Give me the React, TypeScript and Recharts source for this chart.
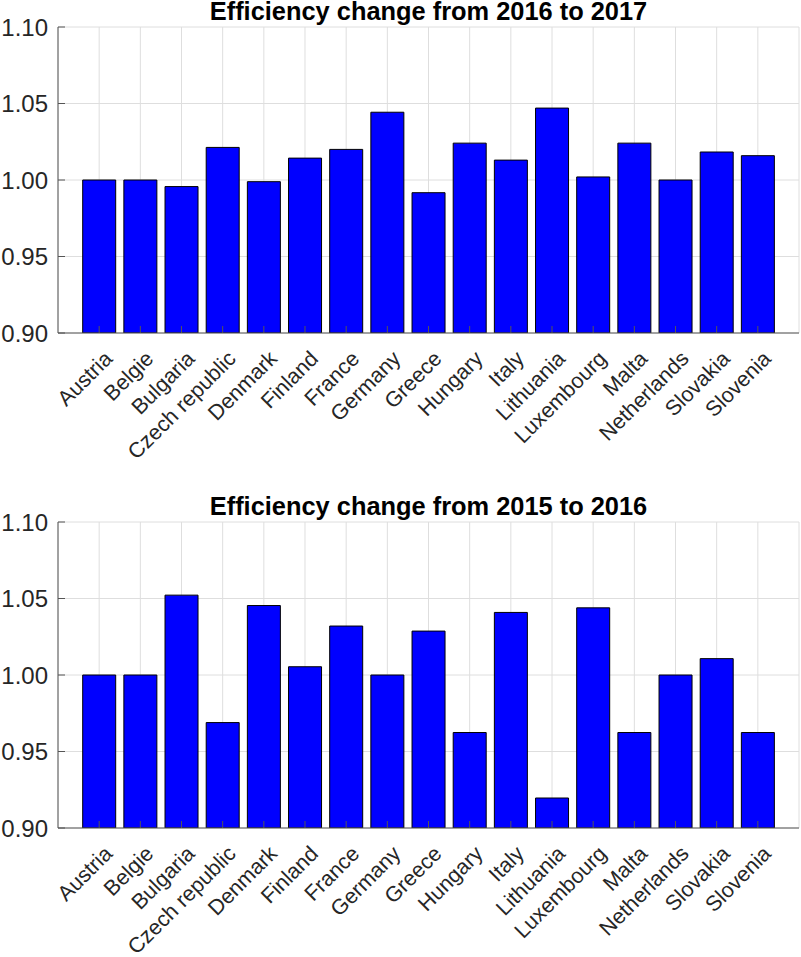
import React from 'react';
import { BarChart, Bar, XAxis, YAxis, CartesianGrid } from 'recharts';

const countries = [
  'Austria', 'Belgie', 'Bulgaria', 'Czech republic', 'Denmark', 'Finland', 'France', 'Germany',
  'Greece', 'Hungary', 'Italy', 'Lithuania', 'Luxembourg', 'Malta', 'Netherlands', 'Slovakia', 'Slovenia',
];
const change2016to2017 = [
  1.0, 1.0, 0.9957, 1.0213, 0.9989, 1.0143, 1.02, 1.0443, 0.9917, 1.0241, 1.013, 1.047, 1.002, 1.0241, 1.0, 1.0183, 1.0159,
];
const change2015to2016 = [
  1.0, 1.0, 1.0522, 0.9689, 1.0454, 1.0054, 1.032, 1.0, 1.0287, 0.9624, 1.0409, 0.9196, 1.0439, 0.9624, 1.0, 1.0107, 0.9624,
];
const yTicks = [0.9, 0.95, 1.0, 1.05, 1.1];
const titleTop = 'Efficiency change from 2016 to 2017';
const titleBottom = 'Efficiency change from 2015 to 2016';

const FONT = '"Liberation Sans", Arial, Helvetica, sans-serif';
const TEXT = '#262626';
const AXIS = '#555555';
const GRID = '#dedede';
const TICK_LEN = 7;

const BottomTick = (props: any) => {
  const { x, y, payload } = props;
  const tx = x + 14.5;
  const ty = y + 27;
  return (
    <g>
      <line x1={x} y1={y} x2={x} y2={y - TICK_LEN} stroke={AXIS} strokeWidth={1} />
      <text
        x={tx}
        y={ty}
        textAnchor="end"
        transform={`rotate(-45 ${tx} ${ty})`}
        fontSize={21.5}
        fontFamily={FONT}
        fill={TEXT}
      >
        {payload.value}
      </text>
    </g>
  );
};

const TopTick = (props: any) => {
  const { x, y } = props;
  return <line x1={x} y1={y} x2={x} y2={y + TICK_LEN} stroke={AXIS} strokeWidth={1} />;
};

const LeftTick = (props: any) => {
  const { x, y, payload } = props;
  return (
    <g>
      <line x1={x} y1={y} x2={x + TICK_LEN} y2={y} stroke={AXIS} strokeWidth={1} />
      <text x={x - 10} y={y} dy="0.36em" textAnchor="end" fontSize={24} fontFamily={FONT} fill={TEXT}>
        {Number(payload.value).toFixed(2)}
      </text>
    </g>
  );
};

const RightTick = (props: any) => {
  const { x, y } = props;
  return <line x1={x} y1={y} x2={x - TICK_LEN} y2={y} stroke={AXIS} strokeWidth={1} />;
};

type PanelProps = { values: number[]; title: string; top: number; height: number; xAxisHeight: number };

const Panel = ({ values, title, top, height, xAxisHeight }: PanelProps) => {
  const data = countries.map((c, i) => ({ name: c, value: values[i] }));
  const pad = 20.58;
  return (
    <div style={{ position: 'absolute', left: 0, top, width: 801, height }}>
      <BarChart
        width={801}
        height={height}
        data={data}
        margin={{ top: 27, right: 2, bottom: 0, left: 0 }}
        barCategoryGap="10%"
      >
        <CartesianGrid stroke={GRID} strokeWidth={1} />
        <XAxis
          dataKey="name"
          interval={0}
          height={xAxisHeight}
          padding={{ left: pad, right: pad }}
          tickSize={0}
          tickMargin={0}
          tickLine={false}
          axisLine={{ stroke: AXIS, strokeWidth: 1 }}
          tick={<BottomTick />}
        />
        <XAxis
          xAxisId="top"
          orientation="top"
          dataKey="name"
          interval={0}
          height={0}
          padding={{ left: pad, right: pad }}
          tickSize={0}
          tickMargin={0}
          tickLine={false}
          axisLine={{ stroke: AXIS, strokeWidth: 1 }}
          tick={<TopTick />}
        />
        <YAxis
          width={58}
          domain={[0.9, 1.1]}
          ticks={yTicks}
          interval={0}
          allowDataOverflow
          tickSize={0}
          tickMargin={0}
          tickLine={false}
          axisLine={{ stroke: AXIS, strokeWidth: 1 }}
          tick={<LeftTick />}
        />
        <YAxis
          yAxisId="right"
          orientation="right"
          width={0}
          domain={[0.9, 1.1]}
          ticks={yTicks}
          interval={0}
          allowDataOverflow
          tickSize={0}
          tickMargin={0}
          tickLine={false}
          axisLine={{ stroke: AXIS, strokeWidth: 1 }}
          tick={<RightTick />}
        />
        <Bar dataKey="value" fill="#0000ff" stroke="#000000" strokeWidth={1} isAnimationActive={false} />
      </BarChart>
      <svg
        width={801}
        height={30}
        style={{ position: 'absolute', left: 0, top: 0, pointerEvents: 'none', overflow: 'visible' }}
      >
        <text x={428.5} y={20} textAnchor="middle" fontSize={25.4} fontWeight="bold" fontFamily={FONT} fill="#000">
          {title}
        </text>
      </svg>
    </div>
  );
};

export default function App() {
  return (
    <div style={{ position: 'absolute', left: 0, top: 0, width: 801, height: 957, background: '#fff', overflow: 'hidden' }}>
      <Panel values={change2016to2017} title={titleTop} top={0} height={495} xAxisHeight={162} />
      <Panel values={change2015to2016} title={titleBottom} top={495} height={462} xAxisHeight={129} />
    </div>
  );
}
